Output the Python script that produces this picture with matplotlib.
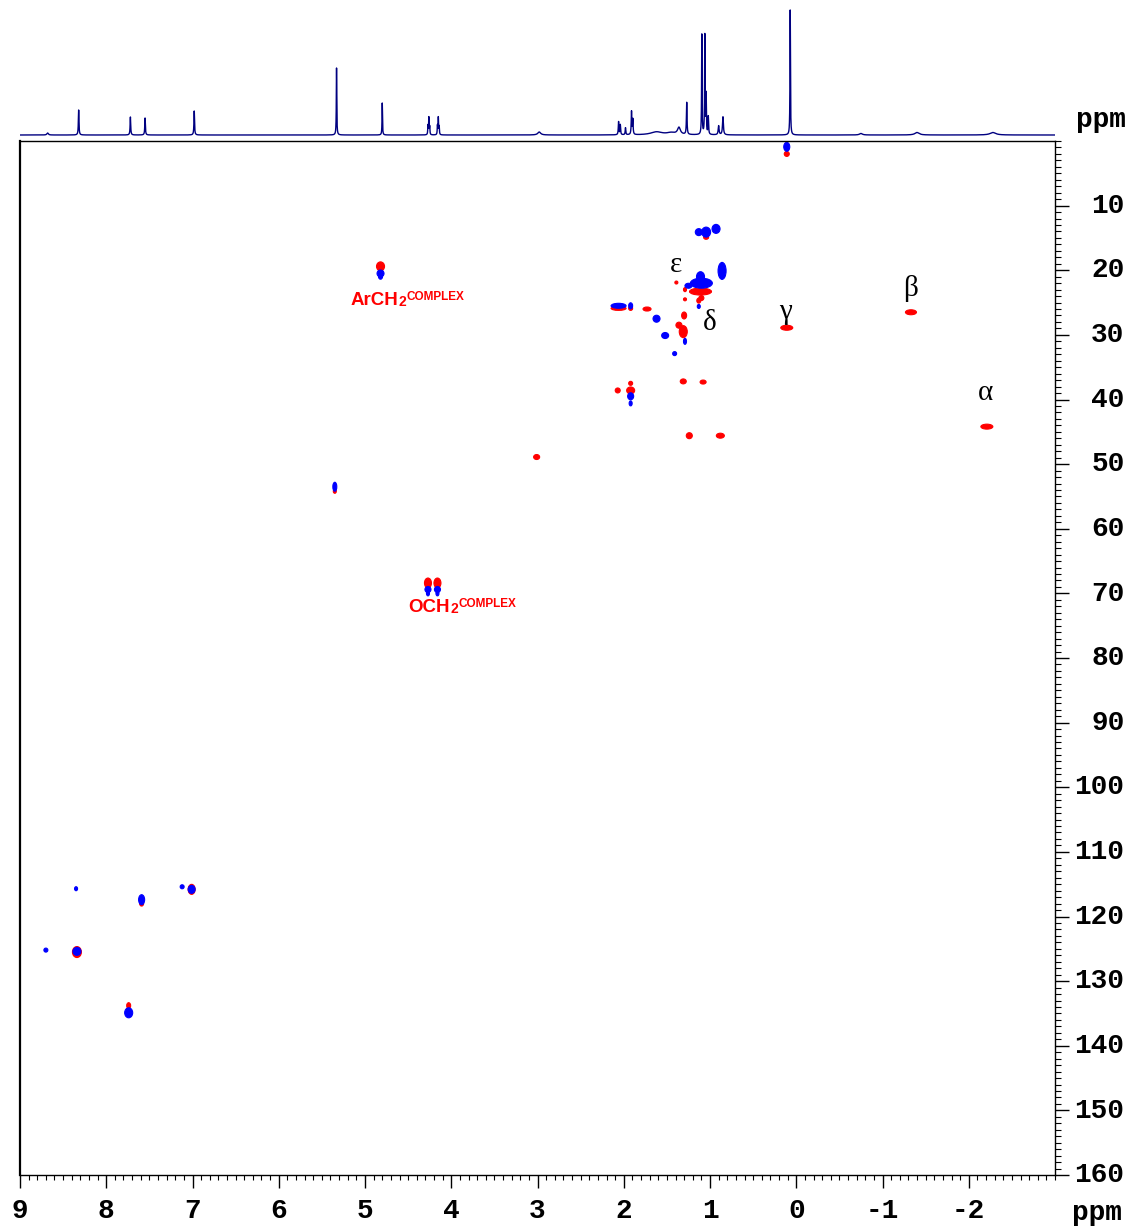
import numpy as np
import matplotlib
matplotlib.use("Agg")
import matplotlib.pyplot as plt
from matplotlib.patches import Ellipse
from matplotlib.ticker import MultipleLocator
from matplotlib.transforms import ScaledTranslation

# ---------------- 1D 1H trace (peak list) ----------------
h1_shift = [8.68, 8.32, 7.72, 7.55, 6.98, 5.33, 4.80, 4.27, 4.26, 4.25, 4.16, 4.15, 4.14,
            2.98, 2.06, 2.04, 1.98, 1.91, 1.895, 1.62, 1.45, 1.36, 1.27, 1.095, 1.06,
            1.045, 1.02, 0.90, 0.85, 0.07, -0.75, -1.40, -2.28]
h1_height = [2, 25, 18, 17, 24, 67, 32, 9, 17, 8, 9, 17, 8,
             3, 13, 10, 7, 23, 15, 3, 2, 7, 32, 100, 99,
             39, 18, 9, 18, 125, 1.5, 2.5, 2.5]
h1_hwhm = [0.01, 0.004, 0.004, 0.004, 0.004, 0.003, 0.003, 0.003, 0.003, 0.003, 0.003, 0.003, 0.003,
           0.02, 0.004, 0.004, 0.004, 0.004, 0.004, 0.08, 0.06, 0.02, 0.004, 0.003, 0.003,
           0.003, 0.004, 0.006, 0.006, 0.003, 0.02, 0.03, 0.04]

# ---------------- 2D HSQC cross peaks: 1H shift, 13C shift, extent (ppm) ----------------
red_h = [0.11, 1.045, 1.11, 1.10, 1.39, 1.29, 1.29, 1.13, 2.06, 1.92, 1.73, 1.30, 1.36, 1.31,
         0.11, -1.33, -2.21, 2.07, 1.92, 1.92, 1.31, 1.08, 1.24, 0.88, 3.01, 5.35, 4.82,
         4.27, 4.16, 7.59, 7.01, 8.34, 7.74]
red_c = [2.0, 14.9, 23.3, 24.3, 21.9, 23.0, 24.5, 24.7, 25.9, 25.9, 26.0, 27.0, 28.5, 29.5,
         28.9, 26.5, 44.2, 38.6, 37.5, 38.6, 37.2, 37.3, 45.6, 45.6, 48.9, 54.2, 19.4,
         68.4, 68.4, 118.0, 115.8, 125.5, 133.8]
red_dh = [0.058, 0.058, 0.255, 0.058, 0.035, 0.035, 0.035, 0.046, 0.174, 0.046, 0.093, 0.058, 0.070, 0.093,
          0.139, 0.128, 0.139, 0.058, 0.046, 0.093, 0.070, 0.070, 0.070, 0.093, 0.070, 0.035, 0.093,
          0.081, 0.081, 0.046, 0.081, 0.104, 0.046]
red_dc = [0.77, 0.62, 1.08, 0.77, 0.46, 0.62, 0.46, 0.77, 0.62, 0.62, 0.62, 1.08, 0.93, 1.86,
          0.77, 0.77, 0.77, 0.77, 0.62, 1.08, 0.77, 0.62, 0.93, 0.77, 0.77, 0.62, 1.39,
          1.55, 1.55, 0.77, 1.55, 1.70, 0.93]

blue_h = [0.11, 1.13, 1.045, 0.93, 0.86, 1.10, 1.11, 1.25, 1.13, 2.06, 1.92, 1.62, 1.52, 1.41,
          1.29, 1.92, 1.92, 5.35, 4.82, 4.82, 4.27, 4.27, 4.16, 4.16, 8.35, 7.59, 7.12, 7.01,
          8.70, 8.34, 7.74]
blue_c = [0.9, 14.1, 14.1, 13.6, 20.1, 22.0, 21.0, 22.4, 25.6, 25.5, 25.5, 27.5, 30.1, 32.9,
          31.0, 39.5, 40.6, 53.5, 20.5, 21.0, 69.4, 70.0, 69.4, 70.0, 115.7, 117.4, 115.4, 115.8,
          125.2, 125.4, 134.9]
blue_dh = [0.070, 0.081, 0.104, 0.093, 0.093, 0.255, 0.093, 0.081, 0.035, 0.174, 0.046, 0.081, 0.081, 0.046,
           0.035, 0.070, 0.035, 0.046, 0.081, 0.046, 0.070, 0.035, 0.070, 0.035, 0.035, 0.070, 0.046, 0.081,
           0.046, 0.093, 0.093]
blue_dc = [1.39, 1.08, 1.55, 1.39, 2.63, 1.55, 1.55, 0.77, 0.62, 0.77, 0.93, 1.08, 0.93, 0.62,
           0.93, 1.08, 0.77, 1.39, 1.08, 0.77, 0.93, 0.77, 0.93, 0.77, 0.62, 1.55, 0.62, 1.24,
           0.62, 1.24, 1.55]

greek_text = ["\u03b5", "\u03b4", "\u03b3", "\u03b2", "\u03b1"]
greek_h = [1.39, 1.00, 0.12, -1.32, -2.19]
greek_c = [19.2, 28.2, 26.5, 22.8, 39.0]

x_ticks = [9, 8, 7, 6, 5, 4, 3, 2, 1, 0, -1, -2]
x_ticklabels = ["9", "8", "7", "6", "5", "4", "3", "2", "1", "0", "-1", "-2"]
y_ticks = [10, 20, 30, 40, 50, 60, 70, 80, 90, 100, 110, 120, 130, 140, 150, 160]

RED = "#ff0000"
BLUE = "#0000ff"
MONO = "Liberation Mono"

fig = plt.figure(figsize=(11.33, 12.29), dpi=100)
W, H = 1133.0, 1229.0
ax = fig.add_axes([20 / W, 1 - 1175 / H, 1035 / W, 1034 / H])
ax1d = fig.add_axes([20 / W, 1 - 140 / H, 1035 / W, 140 / H])

# ---- 1D trace ----
grid = np.linspace(9, -3, 24001)
trace = np.zeros_like(grid)
for s, h, g in zip(h1_shift, h1_height, h1_hwhm):
    trace += h * g**2 / ((grid - s) ** 2 + g**2)
ax1d.plot(grid, trace, color="#000080", lw=1.0)
ax1d.set_xlim(9, -3)
ax1d.set_ylim(-5, 135)
ax1d.axis("off")

# ---- 2D peaks ----
for x, y, w, h in zip(red_h, red_c, red_dh, red_dc):
    ax.add_patch(Ellipse((x, y), w, h, facecolor=RED, edgecolor=RED, lw=0.8))
for x, y, w, h in zip(blue_h, blue_c, blue_dh, blue_dc):
    ax.add_patch(Ellipse((x, y), w, h, facecolor=BLUE, edgecolor=BLUE, lw=0.8))

for t, x, y in zip(greek_text, greek_h, greek_c):
    ax.text(x, y, t, fontsize=21, family="Liberation Serif", ha="center", va="center", color="black")


def complex_label(x, y, main):
    kw = dict(color=RED, fontweight="bold", family="Liberation Sans")
    t1 = ax.text(x, y, main, fontsize=13.5, ha="left", va="baseline", **kw)
    t2 = ax.annotate("2", xy=(1, 0), xycoords=t1, xytext=(0.3, 2.0), textcoords="offset points",
                     fontsize=10, ha="left", va="baseline", **kw)
    ax.annotate("COMPLEX", xy=(1, 0), xycoords=(t2, t1), xytext=(0.5, 6.3), textcoords="offset points",
                fontsize=8.5, ha="left", va="baseline", **kw)


complex_label(5.17, 25.4, "ArCH")
complex_label(4.50, 72.9, "OCH")

ax.set_xlim(9, -3)
ax.set_ylim(160, 0)

ax.yaxis.tick_right()
ax.xaxis.tick_bottom()
ax.set_xticks(x_ticks)
ax.set_xticklabels(x_ticklabels, family=MONO, fontweight="bold", fontsize=20)
ax.set_yticks(y_ticks)
ax.set_yticklabels([str(v) for v in y_ticks], family=MONO, fontweight="bold", fontsize=20, ha="right")
ax.xaxis.set_minor_locator(MultipleLocator(0.1))
ax.yaxis.set_minor_locator(MultipleLocator(1))
ax.tick_params(axis="x", which="major", direction="out", length=9.5, width=1.0, pad=7)
ax.tick_params(axis="x", which="minor", direction="out", length=3.5, width=0.8)
ax.tick_params(axis="y", which="major", direction="out", length=10, width=1.0, pad=40)
ax.tick_params(axis="y", which="minor", direction="out", length=4, width=0.8)
for lab in ax.get_yticklabels():
    lab.set_transform(lab.get_transform() + ScaledTranslation(0, 2.0 / 72, fig.dpi_scale_trans))
for sp in ax.spines.values():
    sp.set_linewidth(1.0)
    sp.set_color("black")
ax.spines["left"].set_linewidth(1.6)

fig.text(1097 / W, 1 - 1213 / H, "ppm", family=MONO, fontweight="bold", fontsize=20, ha="center", va="center")
fig.text(1101 / W, 1 - 120 / H, "ppm", family=MONO, fontweight="bold", fontsize=20, ha="center", va="center")

fig.savefig("out.png", dpi=100)
